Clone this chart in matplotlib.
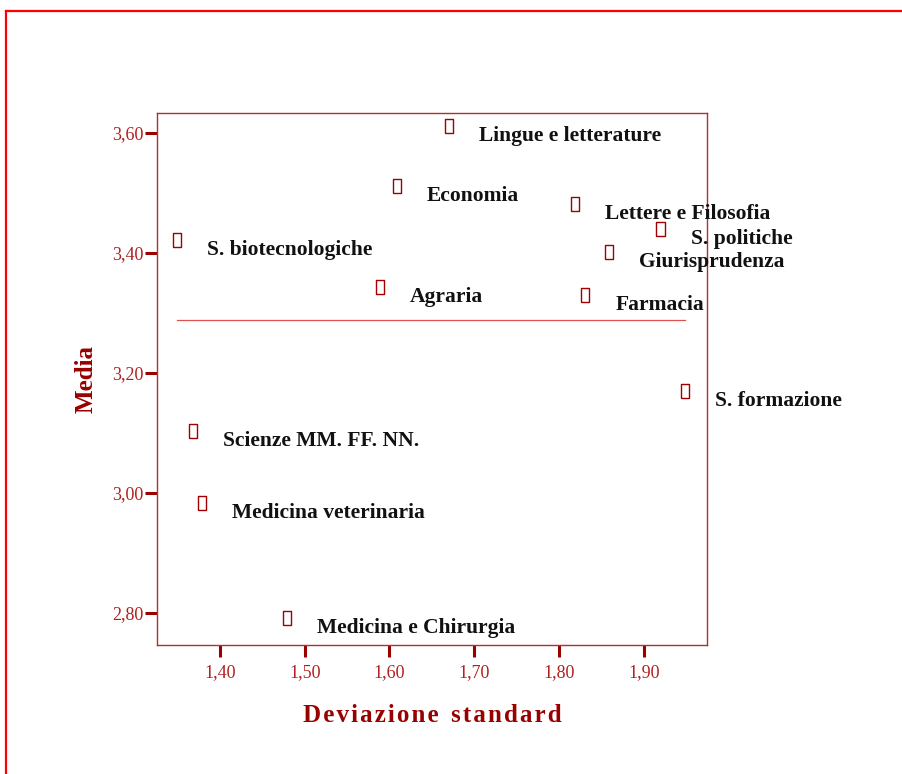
import numpy as np
import matplotlib
matplotlib.use('Agg')
import matplotlib.pyplot as plt
from matplotlib.lines import Line2D
from matplotlib.ticker import FuncFormatter

# data
facolta = ['Lingue e letterature', 'Economia', 'Lettere e Filosofia', 'S. politiche',
           'Giurisprudenza', 'S. biotecnologiche', 'Agraria', 'Farmacia',
           'S. formazione', 'Scienze MM. FF. NN.', 'Medicina veterinaria',
           'Medicina e Chirurgia']
dev_std = [1.670, 1.609, 1.819, 1.920, 1.859, 1.349, 1.589, 1.831, 1.949, 1.368, 1.379, 1.479]
media = [3.612, 3.512, 3.482, 3.440, 3.402, 3.422, 3.343, 3.330, 3.170, 3.103, 2.983, 2.792]
media_tot = 3.288
xticks = [1.40, 1.50, 1.60, 1.70, 1.80, 1.90]
yticks = [2.80, 3.00, 3.20, 3.40, 3.60]

dark = '#990000'
lab = '#B02020'

fig = plt.figure(figsize=(9.03, 7.74), dpi=100)
ax = fig.add_axes([0.1739, 0.1667, 0.609, 0.6873])

# hollow rectangle marker (like the missing-glyph boxes)
box = [(-0.3, -0.5), (0.3, -0.5), (0.3, 0.5), (-0.3, 0.5), (-0.3, -0.5)]
ax.scatter(dev_std, media, marker=box, s=100, facecolors='none', edgecolors='#A00000', linewidths=1.0)

for x, y, t in zip(dev_std, media, facolta):
    ax.annotate(t, (x, y), xytext=(30, -10), textcoords='offset pixels',
                fontsize=15.5, fontweight='bold', family='Liberation Serif',
                color='#111111', va='center', ha='left', annotation_clip=False)

ax.plot([min(dev_std), max(dev_std)], [media_tot, media_tot], color='#E05050', lw=0.9)

ax.set_xlim(1.3257, 1.9747)
ax.set_ylim(2.7467, 3.6333)
ax.set_xticks(xticks)
ax.set_yticks(yticks)
fmt = FuncFormatter(lambda v, p: ('%.2f' % v).replace('.', ','))
ax.xaxis.set_major_formatter(fmt)
ax.yaxis.set_major_formatter(fmt)
ax.tick_params(direction='out', length=8.6, width=2.2, color=dark, labelcolor=lab,
               labelsize=13)
ax.tick_params(axis='x', pad=5)
ax.tick_params(axis='y', pad=1.5)
for lbl in ax.get_xticklabels() + ax.get_yticklabels():
    lbl.set_family('Liberation Serif')
for s in ax.spines.values():
    s.set_color('#B03030')
    s.set_linewidth(1.0)

ax.set_xlabel('D e v i a z i o n e   s t a n d a r d'.replace('   ', '\u2002').replace(' ', '\u200a'),
              fontsize=18, fontweight='bold', color=dark, family='Liberation Serif', labelpad=17)
ax.set_ylabel('Media', fontsize=18, fontweight='bold', color=dark, family='Liberation Serif', labelpad=10)

# red frame around the chart
fig.add_artist(Line2D([6/903, 1], [1-11/774, 1-11/774], transform=fig.transFigure, color='red', lw=1.6))
fig.add_artist(Line2D([6/903, 6/903], [0, 1-11/774], transform=fig.transFigure, color='red', lw=1.6))

fig.savefig('out.png', dpi=100)
